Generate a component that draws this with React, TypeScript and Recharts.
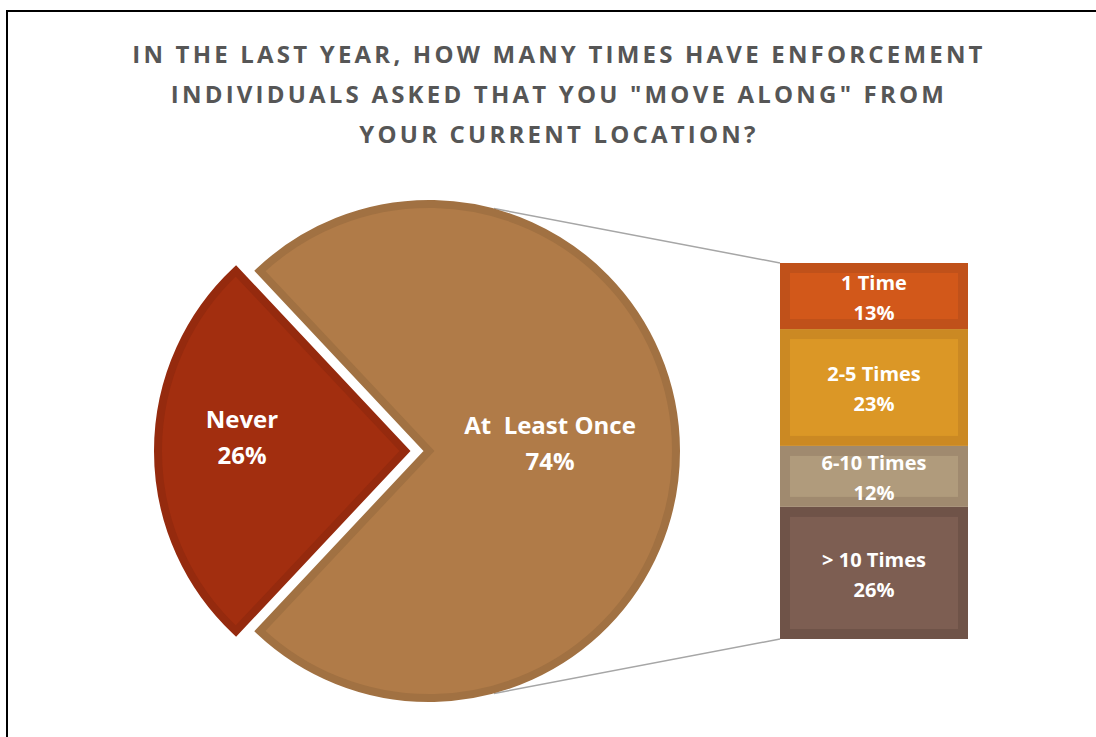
import React from "react";
import { PieChart, Pie, Cell, BarChart, Bar, XAxis, YAxis, LabelList } from "recharts";

const titleLines = [
  "IN THE LAST YEAR, HOW MANY TIMES HAVE ENFORCEMENT",
  'INDIVIDUALS ASKED THAT YOU "MOVE ALONG" FROM',
  "YOUR CURRENT LOCATION?",
];

// main pie: first slice is the one that gets split into the bar
const pieNames = ["At  Least Once", "Never"];
const pieValues = [74, 26];
const pieFills = ["#B07B48", "#A22E0F"];
const pieStrokes = ["#A17142", "#952A0E"];

// stacked bar, bottom to top
const barKeys = ["many", "several", "few", "once"];
const barNames = ["> 10 Times", "6-10 Times", "2-5 Times", "1 Time"];
const barValues = [26, 12, 23, 13];
const barOuter = ["#6F5348", "#A08A6F", "#CB8923", "#C0511A"];
const barInner = ["#7D5E52", "#B09B7C", "#DB9726", "#D2581A"];

const pieData = pieNames.map((name, i) => ({ name, value: pieValues[i] }));
const barRow: Record<string, any> = { cat: pieNames[0] };
barKeys.forEach((k, i) => (barRow[k] = barValues[i]));
const barData = [barRow];
const barTotal = barValues.reduce((a, b) => a + b, 0);

const CX = 429;
const CY = 451;
const R = 247;
const STROKE = 8;
const EXPLODE = 24;
const BAR_X = 780;
const BAR_Y = 263;
const BAR_W = 188;
const BAR_H = 376;
const RAD = Math.PI / 180;
const LINK_ANGLE = 75;

const labelRadius = [0.49, 0.66];
const labelLift = [-17, -23];

const makePieLabel = (only: number) => (props: any) => {
  const { cx, cy, midAngle, outerRadius, index, name, value } = props;
  if (index !== only) return null;
  const r = outerRadius * labelRadius[index];
  const x = cx + r * Math.cos(-midAngle * RAD);
  const y = cy + r * Math.sin(-midAngle * RAD);
  return (
    <text
      x={x}
      y={y}
      fill="#fff"
      textAnchor="middle"
      fontFamily="'Open Sans', sans-serif"
      fontWeight={700}
      fontSize={24}
      style={{ whiteSpace: "pre" }}
    >
      <tspan x={x} dy={labelLift[index]}>{name}</tspan>
      <tspan x={x} dy={36}>{value}%</tspan>
    </text>
  );
};

const makeBarShape = (inner: string) => (props: any) => {
  const { x, y, width, height, fill } = props;
  const pad = 10;
  return (
    <g>
      <rect x={x} y={y} width={width} height={height} fill={fill} />
      <rect x={x + pad} y={y + pad} width={width - pad * 2} height={height - pad * 2} fill={inner} />
    </g>
  );
};

const makeBarLabel = (name: string) => (props: any) => {
  const { x, y, width, height, value } = props;
  const mx = x + width / 2;
  const my = y + height / 2;
  return (
    <text
      x={mx}
      y={my}
      fill="#fff"
      textAnchor="middle"
      fontFamily="'Open Sans', sans-serif"
      fontWeight={700}
      fontSize={20}
    >
      <tspan x={mx} dy={-6}>{name}</tspan>
      <tspan x={mx} dy={30}>{value}%</tspan>
    </text>
  );
};

const edge = R + STROKE / 2;
const topStart = { x: CX + edge * Math.cos(LINK_ANGLE * RAD), y: CY - edge * Math.sin(LINK_ANGLE * RAD) };
const botStart = { x: CX + edge * Math.cos(LINK_ANGLE * RAD), y: CY + edge * Math.sin(LINK_ANGLE * RAD) };

export default function App() {
  return (
    <div
      style={{
        position: "absolute",
        left: 0,
        top: 0,
        width: 1096,
        height: 737,
        overflow: "hidden",
        background: "#fff",
      }}
    >
      <div
        style={{
          position: "absolute",
          left: 6,
          top: 10,
          width: 1100,
          height: 740,
          borderLeft: "2px solid #000",
          borderTop: "2px solid #000",
        }}
      />
      <div
        style={{
          position: "absolute",
          left: 0,
          top: 34,
          width: 1118,
          textAlign: "center",
          fontFamily: "'Open Sans', sans-serif",
          fontWeight: 700,
          fontSize: 24,
          lineHeight: "40px",
          letterSpacing: 3.2,
          color: "#565656",
        }}
      >
        {titleLines.map((t) => (
          <div key={t}>{t}</div>
        ))}
      </div>
      <svg
        width={1096}
        height={737}
        style={{ position: "absolute", left: 0, top: 0 }}
      >
        <line x1={topStart.x} y1={topStart.y} x2={BAR_X} y2={BAR_Y} stroke="#A6A6A6" strokeWidth={1.5} />
        <line x1={botStart.x} y1={botStart.y} x2={BAR_X} y2={BAR_Y + BAR_H} stroke="#A6A6A6" strokeWidth={1.5} />
      </svg>
      <div style={{ position: "absolute", left: 0, top: 0 }}>
        <PieChart width={1096} height={737} margin={{ top: 0, right: 0, bottom: 0, left: 0 }}>
          <Pie
            data={pieData}
            dataKey="value"
            nameKey="name"
            cx={CX}
            cy={CY}
            outerRadius={R}
            startAngle={-133.2}
            endAngle={226.8}
            isAnimationActive={false}
            labelLine={false}
            label={makePieLabel(0)}
          >
            {pieData.map((d, i) => (
              <Cell
                key={d.name}
                fill={i === 0 ? pieFills[i] : "none"}
                stroke={i === 0 ? pieStrokes[i] : "none"}
                strokeWidth={STROKE}
              />
            ))}
          </Pie>
          <Pie
            data={pieData}
            dataKey="value"
            nameKey="name"
            cx={CX - EXPLODE}
            cy={CY}
            outerRadius={R}
            startAngle={-133.2}
            endAngle={226.8}
            isAnimationActive={false}
            labelLine={false}
            label={makePieLabel(1)}
          >
            {pieData.map((d, i) => (
              <Cell
                key={d.name}
                fill={i === 1 ? pieFills[i] : "none"}
                stroke={i === 1 ? pieStrokes[i] : "none"}
                strokeWidth={STROKE}
              />
            ))}
          </Pie>
        </PieChart>
      </div>
      <div style={{ position: "absolute", left: BAR_X, top: BAR_Y }}>
        <BarChart
          width={BAR_W}
          height={BAR_H}
          data={barData}
          margin={{ top: 0, right: 0, bottom: 0, left: 0 }}
          barCategoryGap={0}
        >
          <XAxis dataKey="cat" hide />
          <YAxis hide domain={[0, barTotal]} />
          {barKeys.map((k, i) => (
            <Bar
              key={k}
              dataKey={k}
              stackId="a"
              fill={barOuter[i]}
              shape={makeBarShape(barInner[i])}
              isAnimationActive={false}
            >
              <LabelList dataKey={k} content={makeBarLabel(barNames[i])} />
            </Bar>
          ))}
        </BarChart>
      </div>
    </div>
  );
}
